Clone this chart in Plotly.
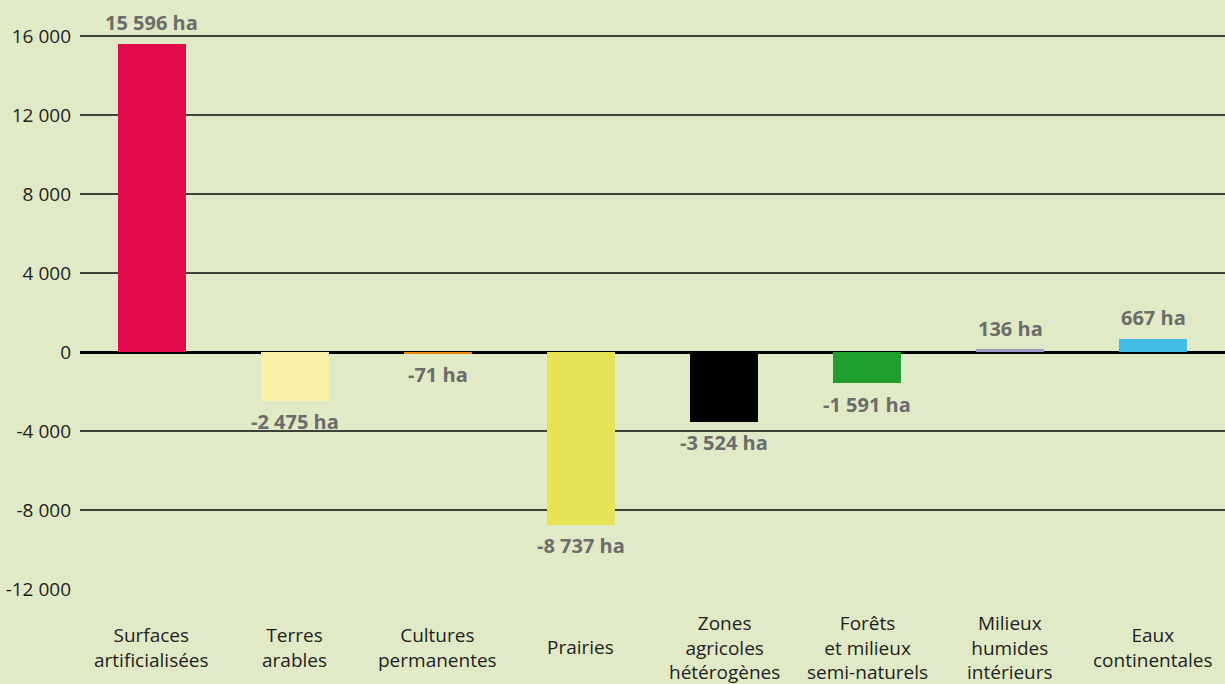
import plotly.graph_objects as go

categories = ["Surfaces<br>artificialisées", "Terres<br>arables", "Cultures<br>permanentes",
              "Prairies", "Zones<br>agricoles<br>hétérogènes", "Forêts<br>et milieux<br>semi-naturels",
              "Milieux<br>humides<br>intérieurs", "Eaux<br>continentales"]
values = [15596, -2475, -71, -8737, -3524, -1591, 136, 667]
value_labels = ["15 596 ha", "-2 475 ha", "-71 ha", "-8 737 ha", "-3 524 ha", "-1 591 ha", "136 ha", "667 ha"]
colors = ["#E30A4C", "#F8F0A6", "#E98A10", "#E6E256", "#000000", "#1FA02E", "#9C9AC9", "#42BCE3"]
tick_vals = [-12000, -8000, -4000, 0, 4000, 8000, 12000, 16000]
tick_text = ["-12 000", "-8 000", "-4 000", "0", "4 000", "8 000", "12 000", "16 000"]

FONT = "Open Sans"
BG = "#E1EAC6"

x_idx = list(range(len(categories)))

fig = go.Figure(go.Bar(
    x=x_idx, y=values, marker=dict(color=colors, line=dict(width=0)),
    width=0.475,
    hoverinfo="skip",
))

# value labels just beyond the end of each bar
for i, (v, lab) in enumerate(zip(values, value_labels)):
    fig.add_annotation(x=i, y=v, xref="x", yref="y", text=f"<b>{lab}</b>", showarrow=False,
                       yanchor="middle", xanchor="center", yshift=21 if v >= 0 else -21,
                       font=dict(family=FONT, size=20, color="#6B6C6B"))

# category labels under the plot, vertically centred
for i, c in enumerate(categories):
    fig.add_annotation(x=i, y=0, xref="x", yref="paper", text=c, showarrow=False,
                       yanchor="middle", xanchor="center", yshift=-58,
                       font=dict(family=FONT, size=19, color="#1E1E1E"), align="center")

fig.update_layout(
    width=1225, height=684,
    margin=dict(l=80, r=0, t=0, b=95),
    paper_bgcolor=BG, plot_bgcolor=BG,
    showlegend=False,
    bargap=0,
    xaxis=dict(range=[-0.5, 7.5], showticklabels=False, showgrid=False, zeroline=False,
               showline=False, ticks=""),
    yaxis=dict(range=[-12000, 17823], tickvals=tick_vals, ticktext=tick_text,
               showgrid=True, gridcolor="#3C4237", gridwidth=1.5,
               zeroline=True, zerolinecolor="#000000", zerolinewidth=3,
               ticks="", ticklabelstandoff=8,
               tickfont=dict(family=FONT, size=19, color="#1E1E1E")),
)

fig.write_html("out.html", config={"displayModeBar": False},
               post_script="document.body.style.margin='0';document.body.style.overflow='hidden';")
